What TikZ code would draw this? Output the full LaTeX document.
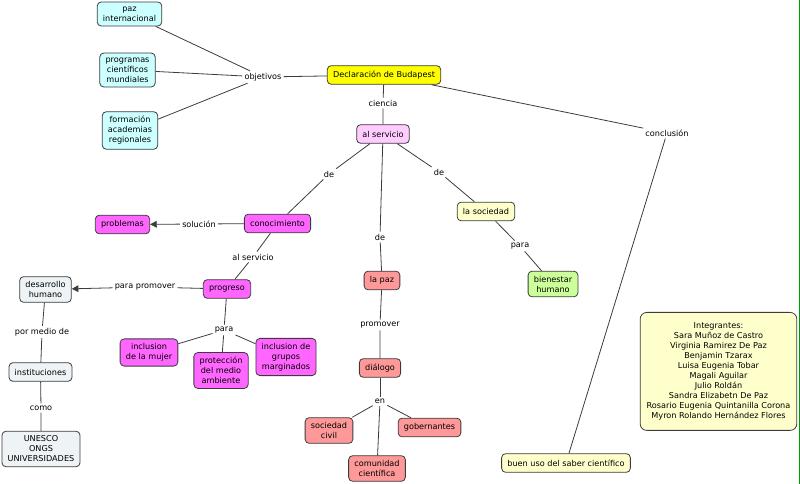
\documentclass[tikz,border=0pt]{standalone}
\usepackage{fontspec}
\setmainfont{DejaVu Sans}
\usepackage{xcolor}
\usetikzlibrary{arrows.meta, positioning}

\definecolor{celeste}{RGB}{204,255,255}
\definecolor{amarillo}{RGB}{255,255,0}
\definecolor{rosa}{RGB}{255,204,255}
\definecolor{magenta}{RGB}{255,102,255}
\definecolor{salmon}{RGB}{255,153,153}
\definecolor{crema}{RGB}{255,255,204}
\definecolor{verde}{RGB}{204,255,153}
\definecolor{gris}{RGB}{238,243,246}
\definecolor{borde}{RGB}{60,60,60}

\begin{document}
\begin{tikzpicture}[
    x={(0.75pt,0)}, y={(0,-0.75pt)},
    font=\fontsize{6.1}{7.5}\selectfont,
    concept/.style={rectangle, rounded corners=3pt, draw=borde, line width=0.6pt, align=center, inner xsep=4.3pt, inner ysep=3.5pt, minimum height=14pt},
    enlace/.style={inner sep=1.5pt, align=center},
    line/.style={draw=borde, line width=0.6pt},
    arrow/.style={line, -{Triangle[length=5pt, width=5pt]}}
]
\useasboundingbox (0,0) rectangle (800,484);
% conceptos
\node (budapest) [concept, fill=amarillo] at (384,75) {Declaración de Budapest};
\node (paz) [concept, fill=celeste] at (129.5,14) {paz\\internacional};
\node (programas) [concept, fill=celeste] at (127.5,70) {programas\\científicos\\mundiales};
\node (formacion) [concept, fill=celeste] at (130,130.5) {formación\\academias\\regionales};
\node (servicio) [concept, fill=rosa] at (383,134) {al servicio};
\node (conocimiento) [concept, fill=magenta] at (277.5,223.5) {conocimiento};
\node (problemas) [concept, fill=magenta] at (122.5,224.5) {problemas};
\node (progreso) [concept, fill=magenta] at (227,289) {progreso};
\node (desarrollo) [concept, fill=gris] at (45.5,289.5) {desarrollo\\humano};
\node (instituciones) [concept, fill=gris] at (40.5,372) {instituciones};
\node (unesco) [concept, fill=gris] at (41,449) {UNESCO\\ONGS\\UNIVERSIDADES};
\node (mujer) [concept, fill=magenta] at (149,352.5) {inclusion\\de la mujer};
\node (medio) [concept, fill=magenta] at (221,370.5) {protección\\del medio\\ambiente};
\node (grupos) [concept, fill=magenta] at (286,357) {inclusion de\\grupos\\marginados};
\node (lapaz) [concept, fill=salmon] at (382,280.5) {la paz};
\node (dialogo) [concept, fill=salmon] at (380,368) {diálogo};
\node (civil) [concept, fill=salmon] at (329,430.5) {sociedad\\civil};
\node (gobernantes) [concept, fill=salmon] at (429.5,427.5) {gobernantes};
\node (comunidad) [concept, fill=salmon] at (377,468.5) {comunidad\\científica};
\node (sociedad) [concept, fill=crema] at (486,211.5) {la sociedad};
\node (bienestar) [concept, fill=verde] at (553,284) {bienestar\\humano};
\node (buenuso) [concept, fill=crema] at (566,463) {buen uso del saber científico};
\node (integrantes) [concept, fill=crema, rounded corners=5pt, minimum width=117.5pt, minimum height=88.5pt, inner ysep=6pt, anchor=north] at (718.5,312) {Integrantes:\\Sara Muñoz de Castro\\Virginia Ramirez De Paz\\Benjamin Tzarax\\Luisa Eugenia Tobar\\Magali Aguilar\\Julio Roldán\\Sandra Elizabetn De Paz\\Rosario Eugenia Quintanilla Corona\\Myron Rolando Hernández Flores};
% enlaces
\node (objetivos) [enlace] at (263,77) {objetivos};
\node (ciencia) [enlace] at (383,103) {ciencia};
\node (deizq) [enlace] at (329,174) {de};
\node (decen) [enlace] at (380,237) {de};
\node (deder) [enlace] at (439,172) {de};
\node (solucion) [enlace] at (199,224) {solución};
\node (alserv) [enlace] at (253,257) {al servicio};
\node (promover) [enlace] at (145,287) {para promover};
\node (pormedio) [enlace] at (42,332) {por medio de};
\node (como) [enlace] at (41,408) {como};
\node (para) [enlace] at (224,330) {para};
\node (promoverpaz) [enlace] at (380,325) {promover};
\node (en) [enlace] at (380,401.5) {en};
\node (parader) [enlace] at (520,246) {para};
\node (conclusion) [enlace] at (667,133) {conclusión};
% conexiones
\draw [line] (budapest) -- (objetivos);
\draw [line] (objetivos) -- (paz);
\draw [line] (objetivos) -- (programas);
\draw [line] (objetivos) -- (formacion);
\draw [line] (budapest) -- (ciencia) -- (servicio);
\draw [line] (servicio) -- (deizq) -- (conocimiento);
\draw [line] (servicio) -- (decen) -- (lapaz);
\draw [line] (servicio) -- (deder) -- (sociedad);
\draw [line] (conocimiento) -- (solucion);
\draw [arrow] (solucion) -- (problemas);
\draw [line] (conocimiento) -- (alserv) -- (progreso);
\draw [line] (progreso) -- (promover);
\draw [arrow] (promover) -- (desarrollo);
\draw [line] (desarrollo) -- (pormedio) -- (instituciones);
\draw [line] (instituciones) -- (como) -- (unesco);
\draw [line] (progreso) -- (para);
\draw [line] (para) -- (mujer);
\draw [line] (para) -- (medio);
\draw [line] (para) -- (grupos);
\draw [line] (lapaz) -- (promoverpaz) -- (dialogo);
\draw [line] (dialogo) -- (en);
\draw [line] (en) -- (civil);
\draw [line] (en) -- (gobernantes);
\draw [line] (en) -- (comunidad);
\draw [line] (sociedad) -- (parader) -- (bienestar);
\draw [line] (budapest) -- (conclusion) -- (buenuso);
\draw [green!60!black, line width=1pt] (799.5,0) -- (799.5,484);
\end{tikzpicture}
\end{document}
